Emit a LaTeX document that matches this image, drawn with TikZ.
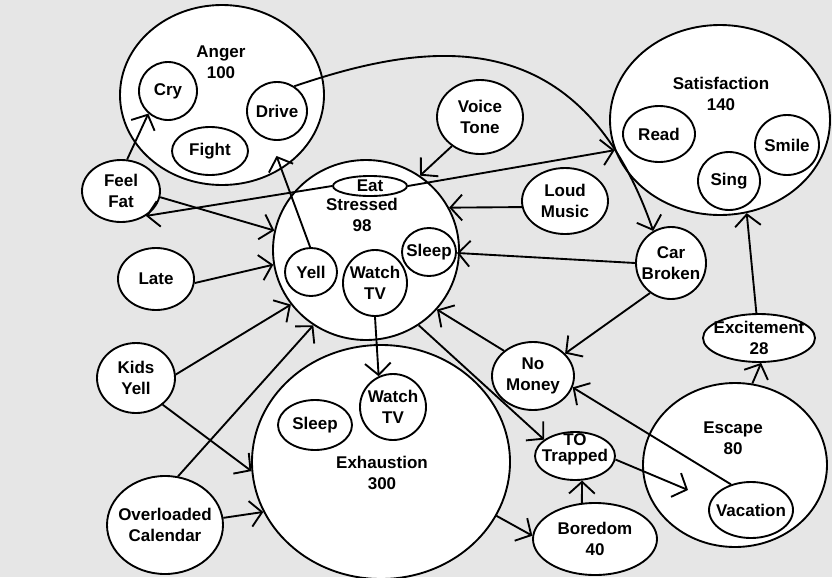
\documentclass[tikz,border=0pt]{standalone}
\usepackage{fontspec}
\setmainfont{Liberation Sans}
\usepackage{tikz}
\usetikzlibrary{shapes.geometric, arrows.meta}
\usepackage{xcolor}
\definecolor{bggray}{RGB}{230,230,230}

\begin{document}
\begin{tikzpicture}[x=0.03cm, y=-0.03cm,
    font=\bfseries\fontsize{14.5}{17.5}\selectfont,
    bubble/.style={ellipse, draw, fill=white, line width=1.6pt, inner sep=-8pt, align=center},
    sz/.style 2 args={minimum width=#1*0.06cm, minimum height=#2*0.06cm},
    moodtext/.style={align=center, inner sep=0pt},
    link/.style={line width=1.6pt, -{Straight Barb[length=10pt, width=22pt]}}]

    % ==========================================
    % CANVAS
    % ==========================================

    \useasboundingbox (0,0) rectangle (832,577);
    \fill[bggray] (0,0) rectangle (832,577);

    % ==========================================
    % BIG MOODS AND WHAT THEY HOLD
    % ==========================================

    % Anger
    \node[bubble, sz={102}{90}] (anger) at (222,95) {};
    \node[moodtext] (angerlbl) at (221,62) {Anger\\100};
    \node[bubble, sz={29}{29}] (cry) at (168,91) {Cry};
    \node[bubble, sz={30}{29}] (drive) at (277,111) {Drive};
    \node[bubble, sz={38}{24}] (fight) at (210,151) {Fight};

    % Stressed
    \node[bubble, sz={93}{90}] (stressed) at (366,250) {};
    \node[moodtext] (stressedlbl) at (362,215) {Stressed\\98};
    \node[bubble, sz={37}{10}] (eat) at (370,186) {Eat};
    \node[bubble, sz={26}{24}] (yell) at (311,272) {Yell};
    \node[bubble, sz={32}{33}] (watchs) at (375,283) {Watch\\TV};
    \node[bubble, sz={27}{24}] (sleeps) at (429,252) {Sleep};

    % Exhaustion
    \node[bubble, sz={129}{117}] (exhaustion) at (381,462) {};
    \node[moodtext] (exhlbl) at (382,473) {Exhaustion\\300};
    \node[bubble, sz={37}{25}] (sleepe) at (315,425) {Sleep};
    \node[bubble, sz={33}{33}] (watche) at (393,407) {Watch\\TV};

    % Satisfaction
    \node[bubble, sz={110}{95}] (satisfaction) at (720,120) {};
    \node[moodtext] (satlbl) at (721,94) {Satisfaction\\140};
    \node[bubble, sz={36}{28}] (read) at (659,134) {Read};
    \node[bubble, sz={31}{29}] (sing) at (729,181) {Sing};
    \node[bubble, sz={32}{30}] (smile) at (787,145) {Smile};

    % Escape
    \node[bubble, sz={92}{82}] (escape) at (735,465) {};
    \node[moodtext] (escapelbl) at (733,438) {Escape\\80};
    \node[bubble, sz={42}{28}] (vacation) at (751,510) {Vacation};

    % ==========================================
    % OTHER CAUSES
    % ==========================================

    \node[bubble, sz={39}{31}] (feelfat) at (121,191) {Feel\\Fat};
    \node[bubble, sz={38}{31}] (late) at (156,279) {Late};
    \node[bubble, sz={39}{35}] (kidsyell) at (136,378) {Kids\\Yell};
    \node[bubble, sz={58}{49}] (overloaded) at (165,525) {Overloaded\\Calendar};
    \node[bubble, sz={43}{37}] (voicetone) at (480,117) {Voice\\Tone};
    \node[bubble, sz={43}{33}] (loudmusic) at (565,201) {Loud\\Music};
    \node[bubble, sz={35}{36}] (carbroken) at (671,263) {Car\\Broken};
    \node[bubble, sz={41}{34}] (nomoney) at (533,376) {No\\Money};
    \node[bubble, sz={56}{24}] (excitement) at (759,338) {Excitement\\28};
    % text sits high, the TO runs into the rim
    \node[bubble, sz={40}{24}, inner sep=-12pt] (trapped) at (575,456)
        {\raisebox{0pt}[\height][\dimexpr\depth+12pt\relax]{\shortstack{TO\\Trapped}}};
    \node[bubble, sz={62}{36}] (boredom) at (595,539) {Boredom\\40};

    % free end of the arrow into Escape
    \coordinate (escapein) at (688,490);

    % ==========================================
    % ARROWS
    % ==========================================

    \draw[link] (feelfat.79) -- (cry.229);
    \draw[link] (feelfat.351) -- (stressed.168);
    \draw[link] (eat.west) -- (feelfat.315);
    \draw[link] (eat.east) -- (satisfaction.196);
    \draw[link] (voicetone.226) -- (stressed.54);
    \draw[link] (loudmusic.188) -- (stressed.27);
    \draw[link] (carbroken.west) -- (sleeps.358);
    \draw[link] (drive.55) .. controls (430,40) and (580,20) .. (carbroken.119);
    \draw[link, shorten >=0.5cm] (yell.92) -- (drive.258);
    \draw[link] (late.354) -- (stressed.189);
    \draw[link] (kidsyell.5) -- (stressed.216);
    \draw[link] (kidsyell.315) -- (exhaustion.184);
    \draw[link] (overloaded.75) -- (stressed.235);
    \draw[link] (overloaded.7) -- (exhaustion.203);
    \draw[link] (watchs.south) -- (watche.115);
    \draw[link] (stressed.305) -- (trapped.152);
    \draw[link] (nomoney.139) -- (stressed.320);
    \draw[link] (carbroken.235) -- (nomoney.35);
    \draw[link] (vacation.128) -- (nomoney.344);
    \draw[link] (trapped.355) -- (escapein);
    \draw[link] (boredom.110) -- (trapped.286);
    \draw[link] (exhaustion.335) -- (boredom.177);
    \draw[link] (escape.78) -- (excitement.275);
    \draw[link] (excitement.96) -- (satisfaction.286);

\end{tikzpicture}
\end{document}
